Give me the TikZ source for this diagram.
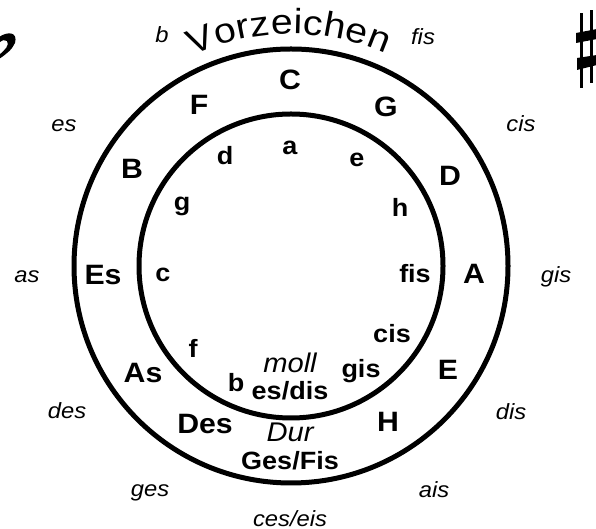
\documentclass[tikz,border=0pt]{standalone}
\usepackage{fontspec}
\setmainfont{Liberation Sans}[FakeStretch=1.08]
\newfontfamily\vzfont{Liberation Sans}[FakeStretch=1.12]
\usetikzlibrary{decorations.text,calc}
\begin{document}
\begin{tikzpicture}[x=1pt,y=1pt,
  outerkey/.style={anchor=base,inner sep=0pt,font=\fontsize{28}{30}\selectfont\bfseries},
  innerkey/.style={anchor=base,inner sep=0pt,font=\fontsize{25}{27}\selectfont\bfseries},
  signkey/.style={anchor=base,inner sep=0pt,font=\fontsize{22}{24}\selectfont\itshape},
  modekey/.style={anchor=base,inner sep=0pt,font=\fontsize{27}{29}\selectfont\itshape},
  ring/.style={draw=black,line width=5pt}]
\useasboundingbox (0,0) rectangle (596,529);
\coordinate (M) at (291,263);
\draw[ring] (M) circle[radius=217];
\draw[ring] (M) circle[radius=152];
% Vorzeichen
\path[decorate,decoration={text along path,text align={fit to path},
  text={|\vzfont\fontsize{35}{37}\selectfont|Vorzeichen}}]
  ($(M)+(115:232)$) arc[start angle=115,end angle=66,radius=232];
% major keys
\node[outerkey] (kC) at (290,439) {C};
\node[outerkey] (kG) at (386,412) {G};
\node[outerkey] (kD) at (450,343) {D};
\node[outerkey] (kA) at (474,245) {A};
\node[outerkey] (kE) at (448,149) {E};
\node[outerkey] (kH) at (388,97) {H};
\node[outerkey] (kDes) at (205,95) {Des};
\node[outerkey] (kAs) at (143,146) {As};
\node[outerkey] (kEs) at (103,244) {Es};
\node[outerkey] (kB) at (132,350) {B};
\node[outerkey] (kF) at (199,414) {F};
\node[innerkey] (kGesFis) at (290,59) {Ges/Fis};
\node[modekey] (kDur) at (290,87) {Dur};
% minor keys
\node[innerkey] (ma) at (290,374) {a};
\node[innerkey] (md) at (225,364) {d};
\node[innerkey] (mg) at (182,318) {g};
\node[innerkey] (me) at (357,362) {e};
\node[innerkey] (mh) at (400,312) {h};
\node[innerkey] (mfis) at (415,246) {fis};
\node[innerkey] (mc) at (163,247) {c};
\node[innerkey] (mf) at (193,171) {f};
\node[innerkey] (mb) at (236,137) {b};
\node[innerkey] (mgis) at (361,151) {gis};
\node[innerkey] (mcis) at (392,186) {cis};
\node[innerkey] (mesdis) at (290,129) {es/dis};
\node[modekey] (mmoll) at (290,156) {moll};
% accidentals
\node[signkey] (sb) at (162,486) {b};
\node[signkey] (sfis) at (423,484) {fis};
\node[signkey] (ses) at (64,397) {es};
\node[signkey] (scis) at (521,397) {cis};
\node[signkey] (sas) at (27,246) {as};
\node[signkey] (sgis) at (556,246) {gis};
\node[signkey] (sdes) at (67,110) {des};
\node[signkey] (sdis) at (511,109) {dis};
\node[signkey] (sges) at (150,32) {ges};
\node[signkey] (sais) at (434,31) {ais};
\node[signkey] (sceseis) at (290,2) {ces/eis};
% sharp sign
\begin{scope}
\clip (0,0) rectangle (596,529);
\draw[line width=3pt] (581.5,441) -- (581.5,516);
\draw[line width=3pt] (591.5,446) -- (591.5,519);
\fill (576,486) -- (576,496) -- (597,500) -- (597,490) -- cycle;
\fill (577,459) -- (577,471) -- (597,474) -- (597,464) -- cycle;
% flat sign bowl
\fill (-1,492) .. controls (8,498) and (18,497) .. (15,486)
  .. controls (12,479) and (5,474) .. (-1,470) -- (-1,474)
  .. controls (5,479) and (10,484) .. (7,488)
  .. controls (5,490) and (2,489) .. (-1,486) -- cycle;
\end{scope}
\end{tikzpicture}
\end{document}
